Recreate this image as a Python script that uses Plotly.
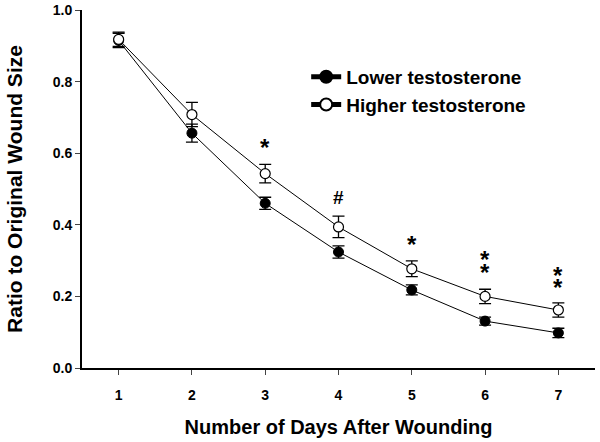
import plotly.graph_objects as go

# Dados
dias = [1, 2, 3, 4, 5, 6, 7]
baixa_testo = [0.915, 0.656, 0.460, 0.324, 0.218, 0.131, 0.098]
baixa_erro = [0.020, 0.025, 0.017, 0.017, 0.014, 0.011, 0.013]
alta_testo = [0.918, 0.708, 0.543, 0.394, 0.277, 0.200, 0.162]
alta_erro = [0.020, 0.034, 0.026, 0.030, 0.022, 0.020, 0.020]

# Marcas de significância (dia, y, texto)
sig_dias = [3, 4, 5, 6, 6, 7, 7]
sig_y = [0.615, 0.475, 0.345, 0.302, 0.268, 0.257, 0.224]
sig_txt = ["*", "#", "*", "*", "*", "*", "*"]

fonte = "Arial, Liberation Sans, sans-serif"

fig = go.Figure()

# Barras de erro (sem legenda)
for serie, erro in [(baixa_testo, baixa_erro), (alta_testo, alta_erro)]:
    fig.add_trace(go.Scatter(
        x=dias, y=serie, mode="markers", showlegend=False, hoverinfo="skip",
        marker=dict(size=1, opacity=0),
        error_y=dict(type="data", array=erro, color="black", thickness=1.3, width=6),
    ))

fig.add_trace(go.Scatter(
    x=dias, y=baixa_testo, name="Lower testosterone", mode="lines+markers",
    line=dict(color="black", width=1),
    marker=dict(symbol="circle", size=10, color="black", line=dict(color="black", width=1)),
))
fig.add_trace(go.Scatter(
    x=dias, y=alta_testo, name="Higher testosterone", mode="lines+markers",
    line=dict(color="black", width=1),
    marker=dict(symbol="circle", size=10, color="white", line=dict(color="black", width=1.2)),
))

for d, y, t in zip(sig_dias, sig_y, sig_txt):
    fig.add_annotation(x=d, y=y, text=t, showarrow=False,
                       font=dict(family=fonte, size=24 if t == "*" else 19,
                                 color="black", weight="bold"))

fig.update_layout(
    width=600, height=442,
    margin=dict(l=82, r=5, t=10, b=74),
    plot_bgcolor="white", paper_bgcolor="white",
    font=dict(family=fonte, color="black"),
    showlegend=True,
    legend=dict(x=0.437, y=0.866, xanchor="left", yanchor="top",
                font=dict(size=19, family=fonte, weight="bold"), bgcolor="rgba(0,0,0,0)",
                tracegroupgap=0, itemsizing="constant"),
    xaxis=dict(
        range=[0.5, 7.5], tickvals=dias, ticks="outside", ticklen=5, tickwidth=1,
        showline=True, linecolor="black", linewidth=2, showgrid=False, zeroline=False,
        tickfont=dict(size=14, family=fonte, weight="bold"), ticklabelstandoff=8,
        automargin=False,
        title=dict(text="Number of Days After Wounding",
                   font=dict(size=20, weight="bold"), standoff=18),
    ),
    yaxis=dict(
        range=[0, 1.0], tickvals=[0, 0.2, 0.4, 0.6, 0.8, 1.0], tickformat=".1f",
        ticks="outside", ticklen=5, tickwidth=1,
        showline=True, linecolor="black", linewidth=2, showgrid=False, zeroline=False,
        tickfont=dict(size=14, family=fonte, weight="bold"), automargin=False,
        title=dict(text="Ratio to Original Wound Size",
                   font=dict(size=21, weight="bold"), standoff=24),
    ),
)

# tira a margem padrão do body para a figura ocupar a janela toda
fig.write_html("out.html", config={"displayModeBar": False},
               post_script="document.body.style.margin='0';")
